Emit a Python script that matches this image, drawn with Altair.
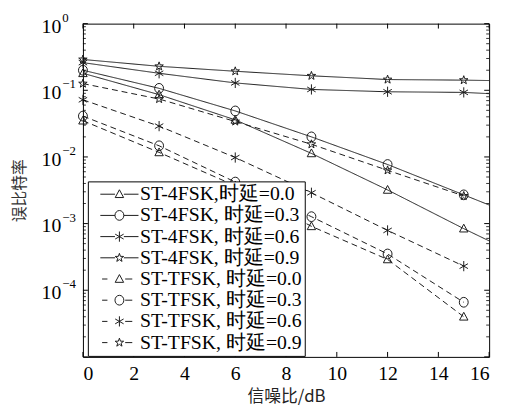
import altair as alt
import pandas as pd
import numpy as np

# ---- data ----
snr = [0, 3, 6, 9, 12, 15]
series_names = [
    "ST-4FSK,时延=0.0", "ST-4FSK, 时延=0.3", "ST-4FSK, 时延=0.6", "ST-4FSK, 时延=0.9",
    "ST-TFSK, 时延=0.0", "ST-TFSK, 时延=0.3", "ST-TFSK, 时延=0.6", "ST-TFSK, 时延=0.9",
]
fsk_00 = [0.18, 0.086, 0.036, 0.0113, 0.0032, 0.00084]
fsk_03 = [0.20, 0.107, 0.049, 0.020, 0.0077, 0.0027]
fsk_06 = [0.26, 0.18, 0.129, 0.103, 0.095, 0.093]
fsk_09 = [0.29, 0.229, 0.193, 0.165, 0.145, 0.142]
tfsk_00 = [0.035, 0.0117, 0.0037, 0.00091, 0.00029, 0.000040]
tfsk_03 = [0.041, 0.0147, 0.0042, 0.00127, 0.00035, 0.000066]
tfsk_06 = [0.072, 0.029, 0.0098, 0.0029, 0.00079, 0.00023]
tfsk_09 = [0.126, 0.074, 0.034, 0.0155, 0.0063, 0.0026]
# ST-4FSK curves continue to the right edge (16 dB)
fsk_end_x = 16
fsk_end = [0.00055, 0.0019, 0.089, 0.14]

x_ticks = [0, 2, 4, 6, 8, 10, 12, 14, 16]
decades = [1, 0.1, 0.01, 0.001, 0.0001, 0.00001]
decade_exp = ["0", "−1", "−2", "−3", "−4", ""]

all_vals = [fsk_00, fsk_03, fsk_06, fsk_09, tfsk_00, tfsk_03, tfsk_06, tfsk_09]
kinds = ["4FSK"] * 4 + ["TFSK"] * 4
delays = ["0.0", "0.3", "0.6", "0.9"] * 2

rows = []
for name, vals, kind, d in zip(series_names, all_vals, kinds, delays):
    for xv, yv in zip(snr, vals):
        rows.append({"series": name, "snr": xv, "ber": yv, "kind": kind, "delay": d})
pts = pd.DataFrame(rows)
line_rows = list(rows)
for name, yv in zip(series_names[:4], fsk_end):
    line_rows.append({"series": name, "snr": fsk_end_x, "ber": yv, "kind": "4FSK", "delay": ""})
lines = pd.DataFrame(line_rows)

# ---- marker shapes ----
def star_path(r_in=0.40):
    p = []
    for k in range(10):
        a = np.deg2rad(-90 + 36 * k)
        r = 1.0 if k % 2 == 0 else r_in
        p.append(f"{r*np.cos(a):.3f},{r*np.sin(a):.3f}")
    return "M" + "L".join(p) + "Z"

tri = "M0,-1L0.95,0.75L-0.95,0.75Z"
circ = "M-1,0A1,1.1 0 1,0 1,0A1,1.1 0 1,0 -1,0Z"
aster = "M0,-1.15L0,1.15M-0.95,-0.55L0.95,0.55M-0.95,0.55L0.95,-0.55"
star = star_path()
marker_paths = [tri, circ, aster, star]

solid_seg = "M-4.3,0L-1,0M1,0L4.3,0"
dash_seg = "M-3.9,0L-2.7,0M1.3,0L2.9,0"
legend_paths = [solid_seg + m for m in marker_paths] + [dash_seg + m for m in marker_paths]

W, H = 412, 338
SERIF = "Liberation Serif"
CJK = "Noto Sans CJK SC"
INK = "#1a1a1a"

xs = alt.Scale(domain=[0, 16], nice=False)
ys = alt.Scale(type="log", domain=[1e-5, 1], nice=False)

base_x = alt.X("snr:Q", scale=xs,
               axis=alt.Axis(values=x_ticks, ticks=False, domain=False, grid=False,
                             labelFont=SERIF, labelFontSize=20, labelColor="black",
                             labelPadding=7, title="信噪比/dB", titleFont=CJK,
                             titleFontSize=17, titleFontWeight="normal", titleColor="#222",
                             titlePadding=5))
base_y = alt.Y("ber:Q", scale=ys,
               axis=alt.Axis(labels=False, ticks=False, domain=False, grid=False,
                             title="误比特率", titleFont=CJK, titleFontSize=16,
                             titleFontWeight="normal", titleColor="#333",
                             titleX=-64, titleBaseline="middle"))

line_layer = alt.Chart(lines).mark_line(strokeWidth=1, color=INK).encode(
    x=base_x, y=base_y,
    detail="series:N",
    strokeDash=alt.StrokeDash("kind:N", scale=alt.Scale(domain=["4FSK", "TFSK"],
                                                         range=[[1, 0], [6, 4]]), legend=None),
)

point_layer = alt.Chart(pts).mark_point(filled=False, color=INK, size=81, strokeWidth=1,
                                        opacity=1).encode(
    x=alt.X("snr:Q", scale=xs), y=alt.Y("ber:Q", scale=ys),
    shape=alt.Shape("delay:N", scale=alt.Scale(domain=["0.0", "0.3", "0.6", "0.9"],
                                               range=marker_paths), legend=None),
)

legend_layer = alt.Chart(pts).mark_point(filled=False, color=INK, size=81, opacity=0).encode(
    x=alt.X("snr:Q", scale=xs), y=alt.Y("ber:Q", scale=ys),
    shape=alt.Shape("series:N", scale=alt.Scale(domain=series_names, range=legend_paths),
                    legend=alt.Legend(orient="none", legendX=5, legendY=160, title=None,
                                      labelFont=SERIF, labelFontSize=20,
                                      labelColor="black", labelLimit=0,
                                      fillColor="white", strokeColor="black",
                                      padding=3, rowPadding=1.5,
                                      symbolOpacity=1, symbolSize=81,
                                      symbolStrokeWidth=1, symbolStrokeColor=INK,
                                      symbolFillColor="transparent",
                                      symbolOffset=19, labelOffset=11)),
)

xt = pd.DataFrame({"t": x_ticks})
tick_bot = alt.Chart(xt).mark_rule(color="black", strokeWidth=1).encode(
    x=alt.X("t:Q", scale=xs), y=alt.value(H), y2=alt.value(H - 5))
tick_top = alt.Chart(xt).mark_rule(color="black", strokeWidth=1).encode(
    x=alt.X("t:Q", scale=xs), y=alt.value(0), y2=alt.value(5))

major = pd.DataFrame({"v": decades})
minor = pd.DataFrame({"v": [m * d for d in decades[1:] for m in range(2, 10)]})
ytick_l = alt.Chart(major).mark_rule(color="black").encode(
    y=alt.Y("v:Q", scale=ys), x=alt.value(0), x2=alt.value(5))
ytick_r = alt.Chart(major).mark_rule(color="black").encode(
    y=alt.Y("v:Q", scale=ys), x=alt.value(W), x2=alt.value(W - 5))
ymin_l = alt.Chart(minor).mark_rule(color="black", strokeWidth=0.8).encode(
    y=alt.Y("v:Q", scale=ys), x=alt.value(0), x2=alt.value(3))
ymin_r = alt.Chart(minor).mark_rule(color="black", strokeWidth=0.8).encode(
    y=alt.Y("v:Q", scale=ys), x=alt.value(W), x2=alt.value(W - 3))

lab = pd.DataFrame({"v": decades[:-1], "e": decade_exp[:-1]})
lab_ten = alt.Chart(lab).mark_text(text="10", font=SERIF, fontSize=20, align="right",
                                   baseline="middle", dy=3, color="black").encode(
    y=alt.Y("v:Q", scale=ys), x=alt.value(-22))
lab_exp = alt.Chart(lab).mark_text(font=SERIF, fontSize=13, align="left",
                                   baseline="middle", dy=-6, color="black").encode(
    y=alt.Y("v:Q", scale=ys), x=alt.value(-21), text="e:N")

chart = alt.layer(
    line_layer, point_layer, legend_layer,
    tick_bot, tick_top, ytick_l, ytick_r, ymin_l, ymin_r, lab_ten, lab_exp,
).resolve_scale(shape="independent").properties(
    width=W, height=H,
    autosize=alt.AutoSizeParams(type="none"),
    padding={"left": 76, "top": 13, "right": 10, "bottom": 51},
).configure_view(stroke="black", strokeWidth=1)

chart.save("out.html", embed_options={"renderer": "svg", "actions": False})
